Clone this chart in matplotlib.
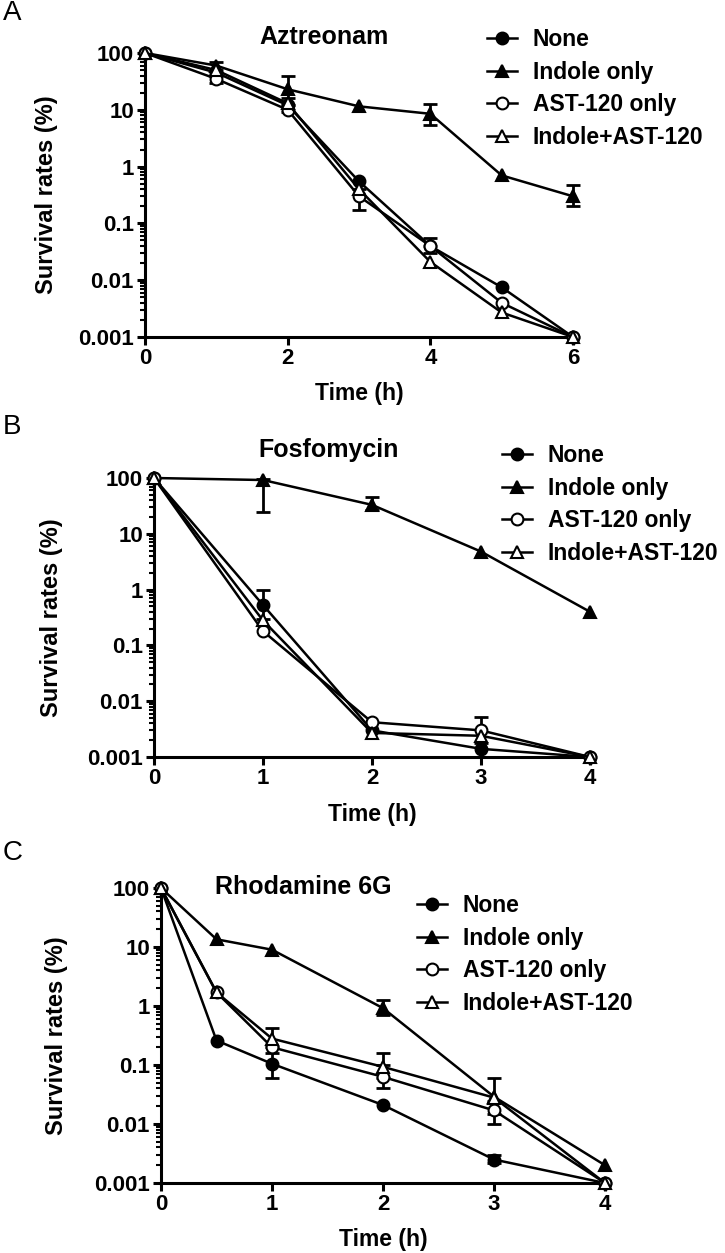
import numpy as np
import matplotlib
matplotlib.use("Agg")
import matplotlib.pyplot as plt
from matplotlib.ticker import LogLocator, FixedLocator, NullFormatter

plt.rcParams['font.family'] = ['Liberation Sans', 'DejaVu Sans']
plt.rcParams['font.weight'] = 'bold'

series_names = ["None", "Indole only", "AST-120 only", "Indole+AST-120"]

# Panel A - Aztreonam
time_a = [0, 1, 2, 3, 4, 5, 6]
none_a = [100, 45, 12, 0.55, 0.04, 0.0075, 0.001]
indole_a = [100, 60, 23, 11.5, 8.5, 0.7, 0.3]
ast_a = [100, 35, 10, 0.3, 0.04, 0.004, 0.001]
combo_a = [100, 50, 13, 0.4, 0.021, 0.0027, 0.001]
# error bars: (time, low, high) per series
err_none_a = [(4, 0.03, 0.055)]
err_indole_a = [(1, 50, 70), (2, 12, 40), (4, 5.5, 12.5), (6, 0.2, 0.48)]
err_ast_a = [(1, 30, 40), (3, 0.17, 0.4)]
err_combo_a = [(2, 9, 16)]

# Panel B - Fosfomycin
time_b = [0, 1, 2, 3, 4]
none_b = [100, 0.53, 0.003, 0.0014, 0.001]
indole_b = [100, 92, 33, 4.8, 0.4]
ast_b = [100, 0.18, 0.0042, 0.003, 0.001]
combo_b = [100, 0.28, 0.0027, 0.0024, 0.001]
err_none_b = [(1, 0.3, 1.0)]
err_indole_b = [(1, 25, 95), (2, 27, 46)]
err_ast_b = [(3, 0.0018, 0.0052)]
err_combo_b = []

# Panel C - Rhodamine 6G
time_c = [0, 0.5, 1, 2, 3, 4]
none_c = [100, 0.26, 0.105, 0.021, 0.0025, 0.001]
indole_c = [100, 13.5, 9, 0.92, 0.029, 0.002]
ast_c = [100, 1.7, 0.2, 0.063, 0.017, 0.001]
combo_c = [100, 1.7, 0.28, 0.093, 0.028, 0.001]
err_none_c = [(1, 0.06, 0.16), (3, 0.0022, 0.003)]
err_indole_c = [(2, 0.7, 1.25)]
err_ast_c = [(2, 0.04, 0.1), (3, 0.01, 0.025)]
err_combo_c = [(1, 0.2, 0.42), (2, 0.06, 0.16), (3, 0.015, 0.06)]

markers = [dict(marker='o', mfc='black'), dict(marker='^', mfc='black'),
           dict(marker='o', mfc='white'), dict(marker='^', mfc='white')]

fig = plt.figure(figsize=(7.25, 12.53), dpi=100)

# letter, title, data, axes box (px: left, top, right, bottom), title pos,
# letter y, legend anchor, ylabel x, xlabel y
panels = [
    ("A", "Aztreonam", time_a, [none_a, indole_a, ast_a, combo_a],
     [err_none_a, err_indole_a, err_ast_a, err_combo_a], [0, 2, 4, 6],
     [145, 53, 573, 337], (324, 37), 13, (487, 28), -0.203, -0.158),
    ("B", "Fosfomycin", time_b, [none_b, indole_b, ast_b, combo_b],
     [err_none_b, err_indole_b, err_ast_b, err_combo_b], [0, 1, 2, 3, 4],
     [154, 478, 590, 757], (329, 450), 427, (502, 444), -0.209, -0.165),
    ("C", "Rhodamine 6G", time_c, [none_c, indole_c, ast_c, combo_c],
     [err_none_c, err_indole_c, err_ast_c, err_combo_c], [0, 1, 2, 3, 4],
     [161, 888, 605, 1183], (303, 887), 853, (417, 894), -0.209, -0.153),
]

W, H = 725, 1253
for letter, title, t, ys, errs, xt, box, tpos, ly, legpos, ylab_x, xlab_y in panels:
    l, top, r, bot = box
    ax = fig.add_axes([l / W, 1 - bot / H, (r - l) / W, (bot - top) / H])
    handles = []
    for y, err, mk in zip(ys, errs, markers):
        h, = ax.plot(t, y, color='black', lw=1.8, ms=8.5, mec='black', mew=1.5,
                     clip_on=False, zorder=3, **mk)
        handles.append(h)
        for (xe, lo, hi) in err:
            yv = y[t.index(xe)]
            ax.errorbar([xe], [yv], yerr=[[yv - lo], [hi - yv]], fmt='none',
                        ecolor='black', elinewidth=2, capsize=5, capthick=2,
                        clip_on=False, zorder=2)
    ax.set_yscale('log')
    ax.set_ylim(0.001, 100)
    ax.set_xlim(t[0], t[-1])
    ax.set_xticks(xt)
    ax.set_xticklabels([str(v) for v in xt])
    ax.yaxis.set_major_locator(FixedLocator([0.001, 0.01, 0.1, 1, 10, 100]))
    ax.set_yticklabels(["0.001", "0.01", "0.1", "1", "10", "100"])
    ax.yaxis.set_minor_locator(LogLocator(base=10, subs=np.arange(2, 10), numticks=20))
    ax.yaxis.set_minor_formatter(NullFormatter())
    for s in ['top', 'right']:
        ax.spines[s].set_visible(False)
    for s in ['left', 'bottom']:
        ax.spines[s].set_linewidth(2.2)
    ax.tick_params(axis='both', which='major', direction='out', length=6, width=2.2,
                   labelsize=16, pad=2)
    ax.tick_params(axis='y', which='minor', direction='out', length=3.5, width=1.5)
    ax.set_ylabel("Survival rates (%)", fontsize=17, fontweight='bold')
    ax.yaxis.set_label_coords(ylab_x, 0.5)
    ax.set_xlabel("Time (h)", fontsize=16.5, fontweight='bold')
    ax.xaxis.set_label_coords(0.5, xlab_y)
    fig.text(tpos[0] / W, 1 - tpos[1] / H, title, fontsize=18, fontweight='bold',
             ha='center', va='center')
    fig.text(3 / W, 1 - ly / H, letter, fontsize=20, fontweight='normal',
             ha='left', va='center')
    fig.legend(handles, series_names, loc='upper left',
               bbox_to_anchor=(legpos[0] / W, 1 - legpos[1] / H),
               frameon=False, fontsize=16.5, handlelength=1.3, handletextpad=0.7,
               labelspacing=0.42, borderpad=0, borderaxespad=0)

fig.savefig("out.png", dpi=100)
